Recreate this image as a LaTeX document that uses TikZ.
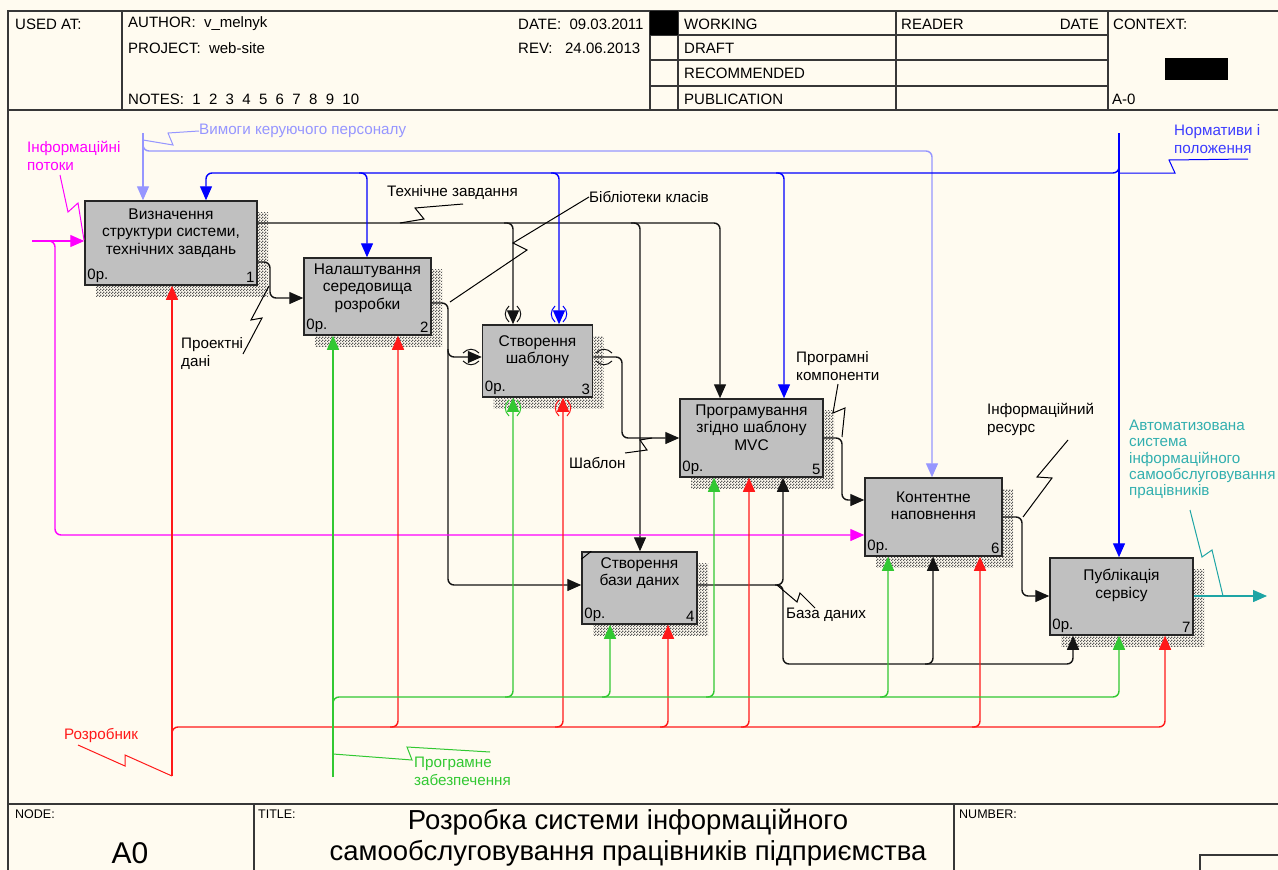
\documentclass[tikz,border=0pt]{standalone}
\usepackage{fontspec}
\setmainfont{Liberation Sans}
\usetikzlibrary{positioning,calc,arrows.meta,shadows,patterns}

\definecolor{paper}{RGB}{255,251,240}
\definecolor{boxgrey}{RGB}{192,192,192}
\definecolor{frameline}{RGB}{55,55,55}
\definecolor{flowblack}{RGB}{20,20,20}
\definecolor{ctlblue}{RGB}{0,0,255}
\definecolor{ctllight}{RGB}{150,150,255}
\definecolor{lblblue}{RGB}{60,60,255}
\definecolor{inmag}{RGB}{255,0,255}
\definecolor{mechred}{RGB}{255,25,25}
\definecolor{mechgreen}{RGB}{50,200,50}
\definecolor{outteal}{RGB}{30,165,165}
\definecolor{lblteal}{RGB}{50,175,175}

\pgfdeclarepatternformonly{idefhatch}{\pgfpointorigin}{\pgfqpoint{3pt}{3pt}}{\pgfqpoint{3pt}{3pt}}{%
  \pgfpathrectangle{\pgfpointorigin}{\pgfqpoint{1.5pt}{1.5pt}}%
  \pgfpathrectangle{\pgfqpoint{1.5pt}{1.5pt}}{\pgfqpoint{1.5pt}{1.5pt}}%
  \pgfusepath{fill}}

\tikzset{frame/.style={draw=frameline, line width=1.6pt}}
\tikzset{hdr/.style={font=\fontsize{15}{16}\selectfont, anchor=west, inner sep=0pt}}
\tikzset{boxcorner/.style={font=\fontsize{15}{16}\selectfont, inner sep=3pt}}
\tikzset{boxtext/.style={font=\fontsize{15.5}{17.5}\selectfont, align=center, inner sep=0pt}}
\tikzset{lbl/.style={font=\fontsize{15.2}{18}\selectfont, align=left, anchor=west, inner sep=0pt}}
\tikzset{funcbox/.style n args={3}{draw=black!85, line width=1.5pt, fill=boxgrey,
    minimum width=#1, minimum height=#2, inner sep=0pt,
    drop shadow={shadow xshift=11pt, shadow yshift=-11pt, opacity=1, pattern=idefhatch, pattern color=black!65},
    label={[boxcorner, anchor=south west]south west:0р.},
    label={[boxcorner, anchor=south east]south east:#3}}}
\tikzset{flow/.style={line width=1.4pt, rounded corners=6pt, -{Triangle[length=14pt,width=12pt]}}}
\tikzset{squig/.style={line width=1pt}}
\tikzset{tunnel/.pic={
    \draw[line width=1pt] (-4,-8) .. controls (-9,-3) and (-9,3) .. (-4,8);
    \draw[line width=1pt] (4,-8) .. controls (9,-3) and (9,3) .. (4,8);}}

\begin{document}
\begin{tikzpicture}[x=1pt, y=-1pt]
\useasboundingbox (0,0) rectangle (1278,870);
\fill[paper] (0,0) rectangle (1278,870);

% frame and header
\draw[frame] (8,875) -- (8,11) -- (1282,11);
\draw[frame] (8,110) -- (1282,110);
\draw[frame] (8,804) -- (1282,804);
\foreach \x in {122,650,678,896,1108}
  \draw[frame] (\x,11) -- (\x,110);
\foreach \y in {35,60,86}
  \draw[frame] (650,\y) -- (1108,\y);
\fill[black] (650,11) rectangle (678,35);
\fill[black] (1165,58) rectangle (1228,80);
\draw[frame] (254,804) -- (254,875);
\draw[frame] (954,804) -- (954,875);
\draw[frame] (1200,875) |- (1282,855);

\node[hdr] (usedat) at (15,24) {USED AT:};
\node[hdr] (author) at (128,24) {AUTHOR:\ \ v\_melnyk};
\node[hdr] (project) at (128,48) {PROJECT:\ \ web-site};
\node[hdr] (notes) at (128,99) {NOTES:\ \ 1\ \ 2\ \ 3\ \ 4\ \ 5\ \ 6\ \ 7\ \ 8\ \ 9\ \ 10};
\node[hdr] (date) at (518,24) {DATE:\ \ 09.03.2011};
\node[hdr] (rev) at (518,48) {REV:\ \ \ 24.06.2013};
\node[hdr] (working) at (684,24) {WORKING};
\node[hdr] (draft) at (684,48) {DRAFT};
\node[hdr] (recomm) at (684,73) {RECOMMENDED};
\node[hdr] (public) at (684,99) {PUBLICATION};
\node[hdr] (reader) at (901,24) {READER};
\node[hdr, anchor=east] (rdate) at (1099,24) {DATE};
\node[hdr] (context) at (1113,24) {CONTEXT:};
\node[hdr] (ctxnum) at (1112,99) {A-0};

% footer
\node[hdr, font=\fontsize{12.5}{14}\selectfont] (nodelbl) at (15,814) {NODE:};
\node[hdr, font=\fontsize{12.5}{14}\selectfont] (titlelbl) at (258,814) {TITLE:};
\node[hdr, font=\fontsize{12.5}{14}\selectfont] (numlbl) at (959,814) {NUMBER:};
\node[font=\fontsize{30}{32}\selectfont, inner sep=0pt] (nodenum) at (130,853) {A0};
\node[font=\fontsize{27.5}{31}\selectfont, align=center, inner sep=0pt] (title) at (628,838)
  {Розробка системи інформаційного\\самообслуговування працівників підприємства};

% activity boxes
\node[funcbox={172pt}{84pt}{1}] (b1) at (171,243) {};
\node[funcbox={127pt}{77pt}{2}] (b2) at (367.5,296.5) {};
\node[funcbox={110pt}{72pt}{3}] (b3) at (537.5,361) {};
\node[funcbox={115pt}{72pt}{4}] (b4) at (639.5,588) {};
\node[funcbox={143pt}{78pt}{5}] (b5) at (751.5,438) {};
\node[funcbox={137pt}{78pt}{6}] (b6) at (933.5,517) {};
\node[funcbox={143pt}{77pt}{7}] (b7) at (1121.5,596.5) {};
\draw[line width=1pt] (b4.north west) ++(0,8) -- ++(10,-8);

\node[boxtext, below=8pt of b1.north] (b1t) {Визначення\\структури системи,\\технічних завдань};
\node[boxtext, below=6pt of b2.north] (b2t) {Налаштування\\середовища\\розробки};
\node[boxtext, below=11pt of b3.north] (b3t) {Створення\\шаблону};
\node[boxtext, below=6pt of b4.north] (b4t) {Створення\\бази даних};
\node[boxtext, below=6pt of b5.north] (b5t) {Програмування\\згідно шаблону\\MVC};
\node[boxtext, below=14pt of b6.north] (b6t) {Контентне\\наповнення};
\node[boxtext, below=12pt of b7.north] (b7t) {Публікація\\сервісу};

% black flows between boxes
\draw[flow, flowblack] (b1.east |- 0,223) -| (720,0 |- b5.north);
\draw[flow, flowblack] (504,223) -| (513,0 |- b3.north);
\draw[flow, flowblack] (631,223) -| (640,0 |- b4.north);
\draw[flow, flowblack] (b1.east |- 0,262) -| (270,298) -- (b2.west |- 0,298);
\draw[flow, flowblack] (b2.east |- 0,303) -| (448,585) -- (b4.west |- 0,585);
\draw[flow, flowblack] (448,349) |- (b3.west |- 0,357);
\draw[flow, flowblack] (b3.east |- 0,357) -| (622,438) -- (b5.west |- 0,438);
\draw[flow, flowblack] (b4.east |- 0,585) -| (783,0 |- b5.south);
\draw[flow, flowblack] (775,585) -| (783,664) -| (1073,0 |- b7.south);
\draw[flow, flowblack] (925,664) -| (933,0 |- b6.south);
\draw[flow, flowblack] (b5.east |- 0,438) -| (842,500) -- (b6.west |- 0,500);
\draw[flow, flowblack] (b6.east |- 0,517) -| (1022,596) -- (b7.west |- 0,596);
\coordinate (outend) at (1267,596);
\draw[flow, outteal] (b7.east |- 0,596) -- (outend);

% controls
\coordinate (ctltop) at (143,133);
\draw[flow, ctllight] (ctltop) -- (143,0 |- b1.north);
\draw[flow, ctllight] (143,143) |- (932,151) -- (932,0 |- b6.north);
\coordinate (normtop) at (1119,133);
\draw[flow, ctlblue] (normtop) -- (1119,0 |- b7.north);
\draw[flow, ctlblue] (1119,165) |- (206,173) -- (206,0 |- b1.north);
\foreach \x/\b in {367/b2, 559/b3, 784/b5}
  \draw[flow, ctlblue] (\x-8,173) -| (\x,0 |- \b.north);

% inputs
\coordinate (instart) at (32,241);
\draw[flow, inmag] (instart) -- (b1.west |- 0,241);
\draw[flow, inmag] (47,241) -| (55,535) -- (b6.west |- 0,535);

% mechanisms
\coordinate (devstart) at (172,776);
\draw[flow, mechred] (devstart) -- (172,0 |- b1.south);
\draw[flow, mechred] (172,735) |- (1165,727) -- (1165,0 |- b7.south);
\foreach \x/\b in {398/b2, 563/b3, 668/b4, 749/b5, 980/b6}
  \draw[flow, mechred] (\x-8,727) -| (\x,0 |- \b.south);
\coordinate (swstart) at (333,777);
\draw[flow, mechgreen] (swstart) -- (333,0 |- b2.south);
\draw[flow, mechgreen] (333,705) |- (1119,697) -- (1119,0 |- b7.south);
\foreach \x/\b in {513/b3, 610/b4, 714/b5, 888/b6}
  \draw[flow, mechgreen] (\x-8,697) -| (\x,0 |- \b.south);

% tunnels at box 3
\pic[flowblack] at (513,314) {tunnel};
\pic[ctlblue] at (559,314) {tunnel};
\pic[flowblack, rotate=90] at (471,357) {tunnel};
\pic[flowblack, rotate=90] at (604,357) {tunnel};
\pic[mechgreen] at (513,408) {tunnel};
\pic[mechred] at (563,408) {tunnel};

% arrow labels
\node[lbl, ctllight] (reqlbl) at (199,131) {Вимоги керуючого персоналу};
\draw[squig, ctllight] (143,140) -- (173,145) -- (168,133) -- (reqlbl.west);
\node[lbl, inmag] (inlbl) at (27,156) {Інформаційні\\потоки};
\draw[squig, inmag] (60,175) -- (68,212) -- (78,203) -- (84,240);
\node[lbl, lblblue] (normlbl) at (1174,139) {Нормативи і\\положення};
\draw[squig, ctlblue] (1119,173) -- (1175,173) -- (1169,160) -- (1248,159);
\node[lbl] (tzlbl) at (387,193) {Технічне завдання};
\draw[squig] (400,223) -- (424,219) -- (415,208) -- (463,204);
\node[lbl] (liblbl) at (589,197) {Бібліотеки класів};
\draw[squig] (liblbl.west) -- (513,243) -- (527,250) -- (450,302);
\node[lbl] (pdlbl) at (181,354) {Проектні\\дані};
\draw[squig] (243,354) -- (262,318) -- (251,320) -- (269,286);
\node[lbl] (tpllbl) at (569,463) {Шаблон};
\draw[squig] (625,453) -- (647,450) -- (640,440) -- (652,438);
\node[lbl] (complbl) at (796,366) {Програмні\\компоненти};
\draw[squig] (838,384) -- (833,413) -- (845,408) -- (842,437);
\node[lbl] (dblbl) at (786,615) {База даних};
\draw[squig] (777,585) -- (797,602) -- (800,593) -- (815,608);
\node[lbl] (reslbl) at (987,419) {Інформаційний\\ресурс};
\draw[squig] (1068,440) -- (1037,477) -- (1052,478) -- (1023,517);
\node[lbl, lblteal, anchor=north west, font=\fontsize{15.2}{16.3}\selectfont] (outlbl) at (1129,420)
  {Автоматизована\\система\\інформаційного\\самообслуговування\\працівників};
\draw[squig, outteal] (1190,510) -- (1202,557) -- (1212,550) -- (1223,596);
\node[lbl, mechred] (devlbl) at (64,735) {Розробник};
\draw[squig, mechred] (78,745) -- (125,766) -- (125,755) -- (devstart);
\node[lbl, mechgreen] (swlbl) at (414,771) {Програмне\\забезпечення};
\draw[squig, mechgreen] (333,754) -- (412,760) -- (407,747) -- (490,752);
\end{tikzpicture}
\end{document}
